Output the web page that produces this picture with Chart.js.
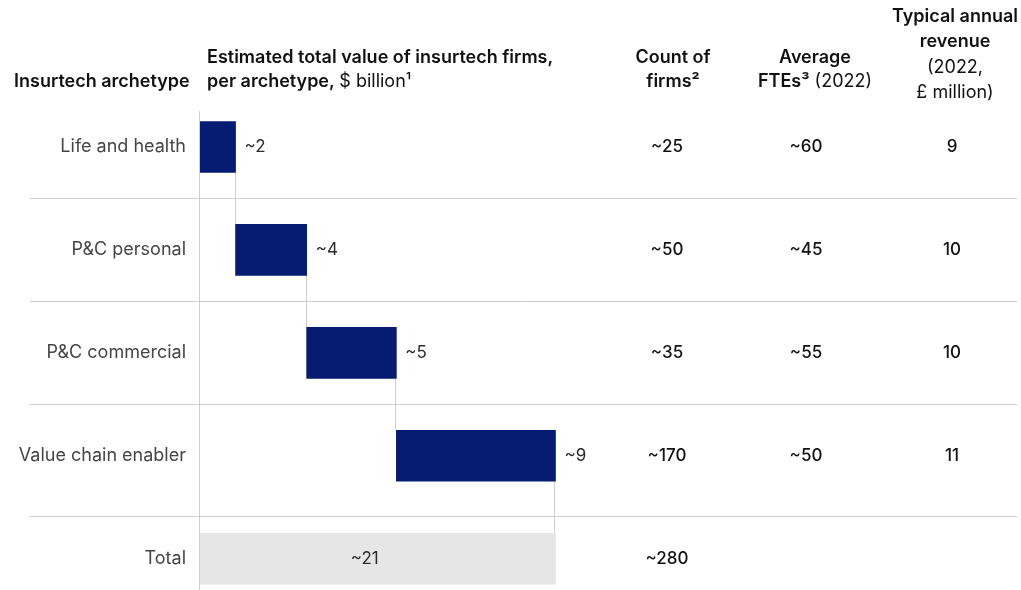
<!DOCTYPE html>
<html>
<head>
<meta charset="utf-8">
<script src="https://cdn.jsdelivr.net/npm/chart.js@4/dist/chart.umd.min.js"></script>
<style>
  html, body { margin: 0; padding: 0; background: #fff; overflow: hidden; }
  #wrap { width: 1021px; height: 590px; overflow: hidden; }
</style>
</head>
<body>
<div id="wrap"><canvas id="chart" width="1021" height="635"></canvas></div>
<script>
// Archetypes and their estimated value, $ billion
const archetypes = ['Life and health', 'P&C personal', 'P&C commercial', 'Value chain enabler'];
const values = [2.1, 4.2, 5.3, 9.4];
const valueLabels = ['~2', '~4', '~5', '~9', '~21'];

// Table columns on the right (last entry = Total row)
const countOfFirms = ['~25', '~50', '~35', '~170', '~280'];
const avgFtes = ['~60', '~45', '~55', '~50', ''];
const typicalRevenue = ['9', '10', '10', '11', ''];

const FONT = 'Inter, "Liberation Sans", Arial, sans-serif';
const NAVY = '#061c73';
const TOTAL_GREY = '#e6e6e6';
const LINE_GREY = '#cfcfcf';

// Build the waterfall: each bar starts where the previous one ended
let running = 0;
const floating = values.map(v => {
  const bar = [running, running + v];
  running += v;
  return bar;
});
floating.push([0, running]);
const categories = [...archetypes, 'Total'];

// Draw a line made of bold / regular pieces
function drawRich(ctx, parts, x, y, align) {
  const widths = parts.map(([txt, bold]) => {
    ctx.font = `${bold ? '600 ' : ''}18px ${FONT}`;
    return ctx.measureText(txt).width;
  });
  const total = widths.reduce((a, b) => a + b, 0);
  let cx = align === 'center' ? x - total / 2 : x;
  ctx.textAlign = 'left';
  ctx.textBaseline = 'middle';
  parts.forEach(([txt, bold], i) => {
    ctx.font = `${bold ? '600 ' : ''}18px ${FONT}`;
    ctx.fillText(txt, cx, y);
    cx += widths[i];
  });
}

const tablePlugin = {
  id: 'tablePlugin',
  beforeDatasetsDraw(chart) {
    const { ctx } = chart;
    const bars = chart.getDatasetMeta(0).data;
    ctx.save();
    ctx.strokeStyle = LINE_GREY;
    ctx.lineWidth = 1;

    // row separators
    for (let i = 0; i < bars.length - 1; i++) {
      const a = bars[i], b = bars[i + 1];
      let y = (a.y + a.height / 2 + b.y - b.height / 2) / 2;
      if (i === bars.length - 2) y = b.y - b.height / 2 - 17.5;
      y = Math.round(y) + 0.5;
      ctx.beginPath();
      ctx.moveTo(30, y);
      ctx.lineTo(1017, y);
      ctx.stroke();
    }

    // left axis line
    const x0 = Math.round(chart.scales.x.getPixelForValue(0)) - 0.5;
    ctx.beginPath();
    ctx.moveTo(x0, 111);
    ctx.lineTo(x0, 635);
    ctx.stroke();

    // connectors between the steps
    for (let i = 0; i < bars.length - 1; i++) {
      const a = bars[i], b = bars[i + 1];
      const x = Math.round(a.x) - 0.5;
      ctx.beginPath();
      ctx.moveTo(x, a.y + a.height / 2);
      ctx.lineTo(x, b.y - b.height / 2);
      ctx.stroke();
    }
    ctx.restore();
  },
  afterDatasetsDraw(chart) {
    const { ctx } = chart;
    const bars = chart.getDatasetMeta(0).data;
    ctx.save();
    ctx.fillStyle = '#111';

    // headers
    drawRich(ctx, [['Insurtech archetype', true]], 14, 82, 'left');
    drawRich(ctx, [['Estimated total value of insurtech firms,', true]], 207, 58, 'left');
    drawRich(ctx, [['per archetype, ', true], ['$ billion\u00b9', false]], 207, 82, 'left');
    drawRich(ctx, [['Count of', true]], 673, 58, 'center');
    drawRich(ctx, [['firms\u00b2', true]], 673, 82, 'center');
    drawRich(ctx, [['Average', true]], 815, 58, 'center');
    drawRich(ctx, [['FTEs\u00b3', true], [' (2022)', false]], 815, 82, 'center');
    drawRich(ctx, [['Typical annual', true]], 955, 17, 'center');
    drawRich(ctx, [['revenue', true]], 955, 42, 'center');
    drawRich(ctx, [['(2022,', false]], 955, 68, 'center');
    drawRich(ctx, [['\u00a3 million)', false]], 955, 93, 'center');

    // bar value labels
    ctx.font = `17px ${FONT}`;
    ctx.textBaseline = 'middle';
    ctx.fillStyle = '#2a2a2a';
    bars.forEach((bar, i) => {
      if (i < bars.length - 1) {
        ctx.textAlign = 'left';
        ctx.fillText(valueLabels[i], bar.x + 9, bar.y);
      } else {
        ctx.textAlign = 'center';
        ctx.fillText(valueLabels[i], (bar.base + bar.x) / 2 - 13, bar.y);
      }
    });

    // table columns
    ctx.font = `500 17px ${FONT}`;
    ctx.fillStyle = '#111';
    ctx.textAlign = 'center';
    bars.forEach((bar, i) => {
      ctx.fillText(countOfFirms[i], 667, bar.y);
      ctx.fillText(avgFtes[i], 806, bar.y);
      ctx.fillText(typicalRevenue[i], 952, bar.y);
    });
    ctx.restore();
  }
};

new Chart(document.getElementById('chart'), {
  type: 'bar',
  data: {
    labels: categories,
    datasets: [{
      data: floating,
      backgroundColor: categories.map((_, i) => i === categories.length - 1 ? TOTAL_GREY : NAVY),
      borderWidth: 0,
      borderSkipped: false,
      barThickness: 51
    }]
  },
  options: {
    indexAxis: 'y',
    responsive: false,
    animation: false,
    layout: { padding: { top: 95.5, bottom: 0, left: 0, right: 0 } },
    plugins: {
      legend: { display: false },
      tooltip: { enabled: false }
    },
    scales: {
      x: { display: false, min: 0, max: 48.5 },
      y: {
        grid: { display: false, drawTicks: false },
        border: { display: false },
        afterFit: s => { s.width = 200; },
        ticks: {
          color: '#454545',
          padding: 14,
          font: { family: FONT, size: 18 }
        }
      }
    }
  },
  plugins: [tablePlugin]
});
</script>
</body>
</html>
